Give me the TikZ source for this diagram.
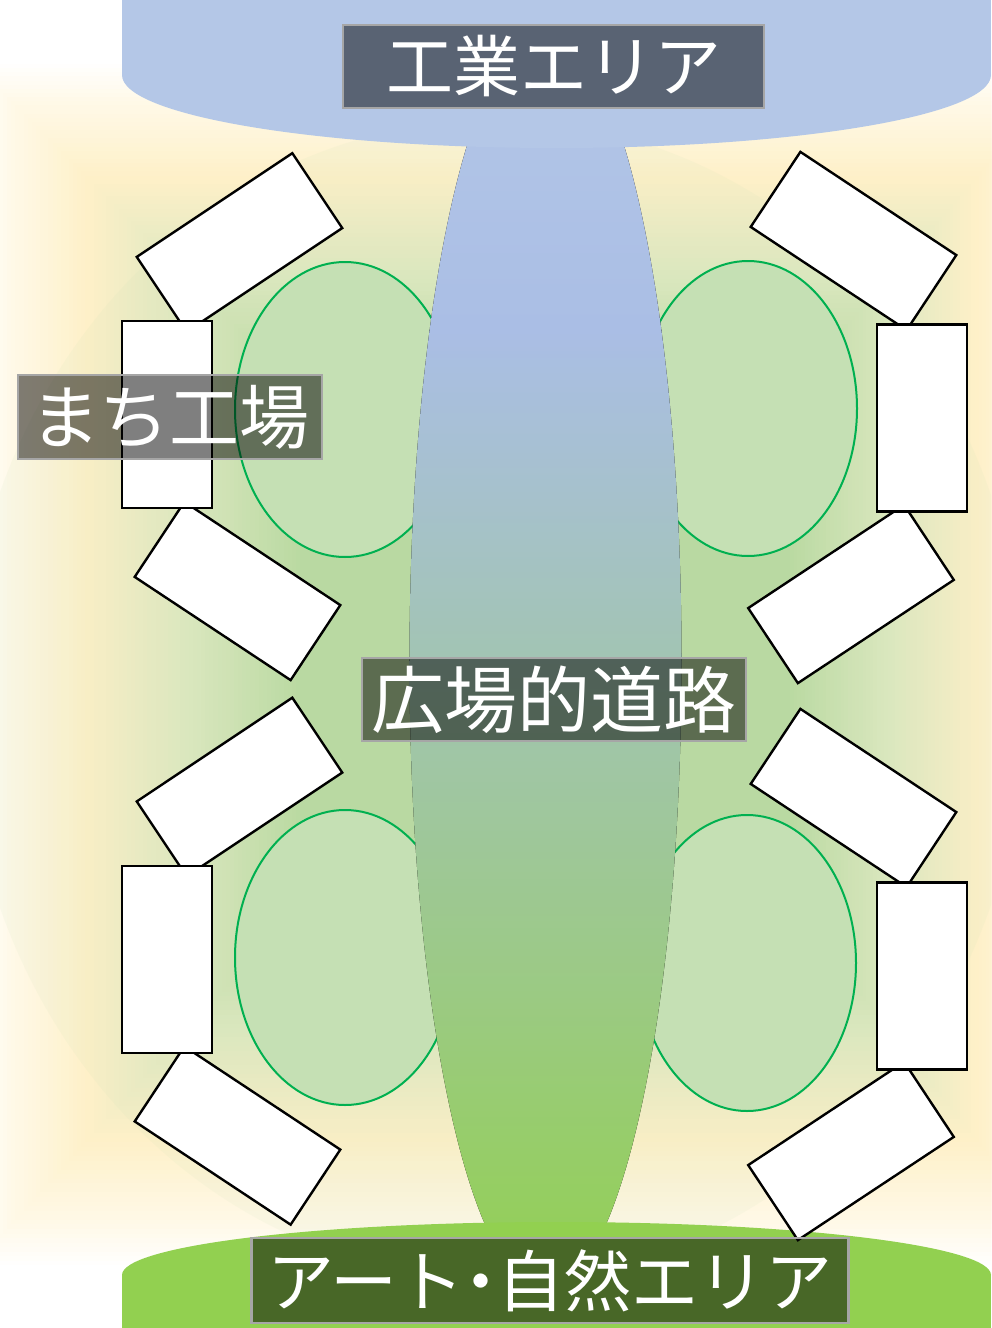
\documentclass[tikz,border=0pt]{standalone}
\usepackage{fontspec}
\newfontfamily\jp{Noto Sans CJK JP}
\definecolor{bgO}{HTML}{FFFFFF}
\definecolor{bgW}{HTML}{FFF9E8}
\definecolor{bgY}{HTML}{FEF0C8}
\definecolor{bgM}{HTML}{DDE8C0}
\definecolor{bgG}{HTML}{B8D9A0}
\definecolor{glow}{HTML}{C8E0B4}
\definecolor{blueArea}{HTML}{B4C7E7}
\definecolor{greenArea}{HTML}{92D050}
\definecolor{parkFill}{HTML}{C5E0B4}
\definecolor{parkLine}{HTML}{00B050}
\definecolor{lblBorder}{HTML}{A6A6A6}
\definecolor{roadA}{HTML}{B4C7E7}
\definecolor{roadB}{HTML}{AABEE5}
\definecolor{roadC}{HTML}{A2C4B3}
\definecolor{roadD}{HTML}{9BCA82}
\definecolor{roadE}{HTML}{92D050}
\newcommand\bgcolorat[1]{%
  \pgfmathsetmacro\bgd{#1}%
  \ifdim\bgd pt<0.12pt
    \pgfmathsetmacro\bgp{100*\bgd/0.12}%
    \colorlet{bgc}{bgW!\bgp!bgO}%
  \else
  \ifdim\bgd pt<0.35pt
    \pgfmathsetmacro\bgp{100*(\bgd-0.12)/0.23}%
    \colorlet{bgc}{bgY!\bgp!bgW}%
  \else
    \ifdim\bgd pt<0.65pt
      \pgfmathsetmacro\bgp{100*(\bgd-0.35)/0.30}%
      \colorlet{bgc}{bgM!\bgp!bgY}%
    \else
      \pgfmathsetmacro\bgp{min(100,100*(\bgd-0.65)/0.35)}%
      \colorlet{bgc}{bgG!\bgp!bgM}%
    \fi
  \fi\fi}
\tikzset{
  park/.style={draw=parkLine, fill=parkFill, line width=2pt},
  bld/.style={draw=black, fill=white, line width=2.4pt, line join=miter},
  lbl/.style={fill=black, fill opacity=0.5, text opacity=1, draw=lblBorder,
    draw opacity=1, line width=2.5pt, text=white, inner sep=0pt},
}
\newcommand\bldg[3]{\begin{scope}[shift={(#1,#2)},rotate=#3]
  \path[bld] (-93.5,-45) rectangle (93.5,45);\end{scope}}
\begin{document}
\begin{tikzpicture}[x=1pt,y=-1pt]
\useasboundingbox (0,0) rectangle (991,1328);
\fill[white] (0,0) rectangle (991,1328);
% background glow
\begin{scope}
\clip (0,0) rectangle (991,1328);
\foreach \k in {0,...,80}{%
  \pgfmathsetmacro\bgt{\k/80}%
  \bgcolorat{\bgt}%
  \fill[bgc] ({-30+\bgt*330},{60+\bgt*330}) rectangle ({1080-\bgt*290},{1270-\bgt*365});
}
\fill[glow, opacity=0.1] (495,700) ellipse [x radius=530, y radius=580];
\end{scope}
% parks
\path[park] (345,409.5) ellipse [x radius=110, y radius=147.5];
\path[park] (345,957.5) ellipse [x radius=110, y radius=147.5];
\path[park] (748,408.5) ellipse [x radius=109, y radius=147.5];
\path[park] (747,963) ellipse [x radius=109, y radius=148];
% road
\begin{scope}
\clip (545.5,660) ellipse [x radius=136, y radius=630];
\fill[top color=roadA, bottom color=roadB] (400,20) rectangle (700,330.5);
\fill[top color=roadB, bottom color=roadC] (400,330) rectangle (700,660.5);
\fill[top color=roadC, bottom color=roadD] (400,660) rectangle (700,1000.5);
\fill[top color=roadD, bottom color=roadE] (400,1000) rectangle (700,1300);
\end{scope}
% areas
\fill[blueArea] (122,-5) rectangle (991,75);
\fill[blueArea] (556.5,75) ellipse [x radius=434.5, y radius=73];
\fill[greenArea] (122,1275) rectangle (991,1335);
\fill[greenArea] (556.5,1275) ellipse [x radius=434.5, y radius=53];
% buildings left
\bldg{239.5}{242.5}{33.7}
\bldg{237.5}{591}{-33.5}
\bldg{167}{414.5}{90}
\bldg{239.5}{787}{33.7}
\bldg{237.5}{1135.5}{-33.5}
\bldg{167}{959.5}{90}
% buildings right
\bldg{853.5}{241}{-33.5}
\bldg{851}{594}{33.5}
\bldg{922}{418}{90}
\bldg{853.5}{798}{-33.5}
\bldg{851}{1151}{33.5}
\bldg{922}{976}{90}
% labels
\node[lbl, minimum width=421pt, minimum height=83pt, font=\jp\fontsize{67pt}{67pt}\selectfont] (kogyo) at (553.5,66.5) {工業エリア};
\node[lbl, minimum width=304pt, minimum height=84pt, font=\jp\fontsize{70pt}{70pt}\selectfont] (machi) at (170,417) {まち工場};
\node[lbl, minimum width=384pt, minimum height=83pt, font=\jp\fontsize{73pt}{73pt}\selectfont] (hiroba) at (554,699.5) {広場的道路};
\node[lbl, minimum width=597pt, minimum height=85pt, font=\jp\fontsize{67pt}{67pt}\selectfont] (art) at (550,1280.5) {アート\kern-.25em・\kern-.25em自然エリア};
\end{tikzpicture}
\end{document}
